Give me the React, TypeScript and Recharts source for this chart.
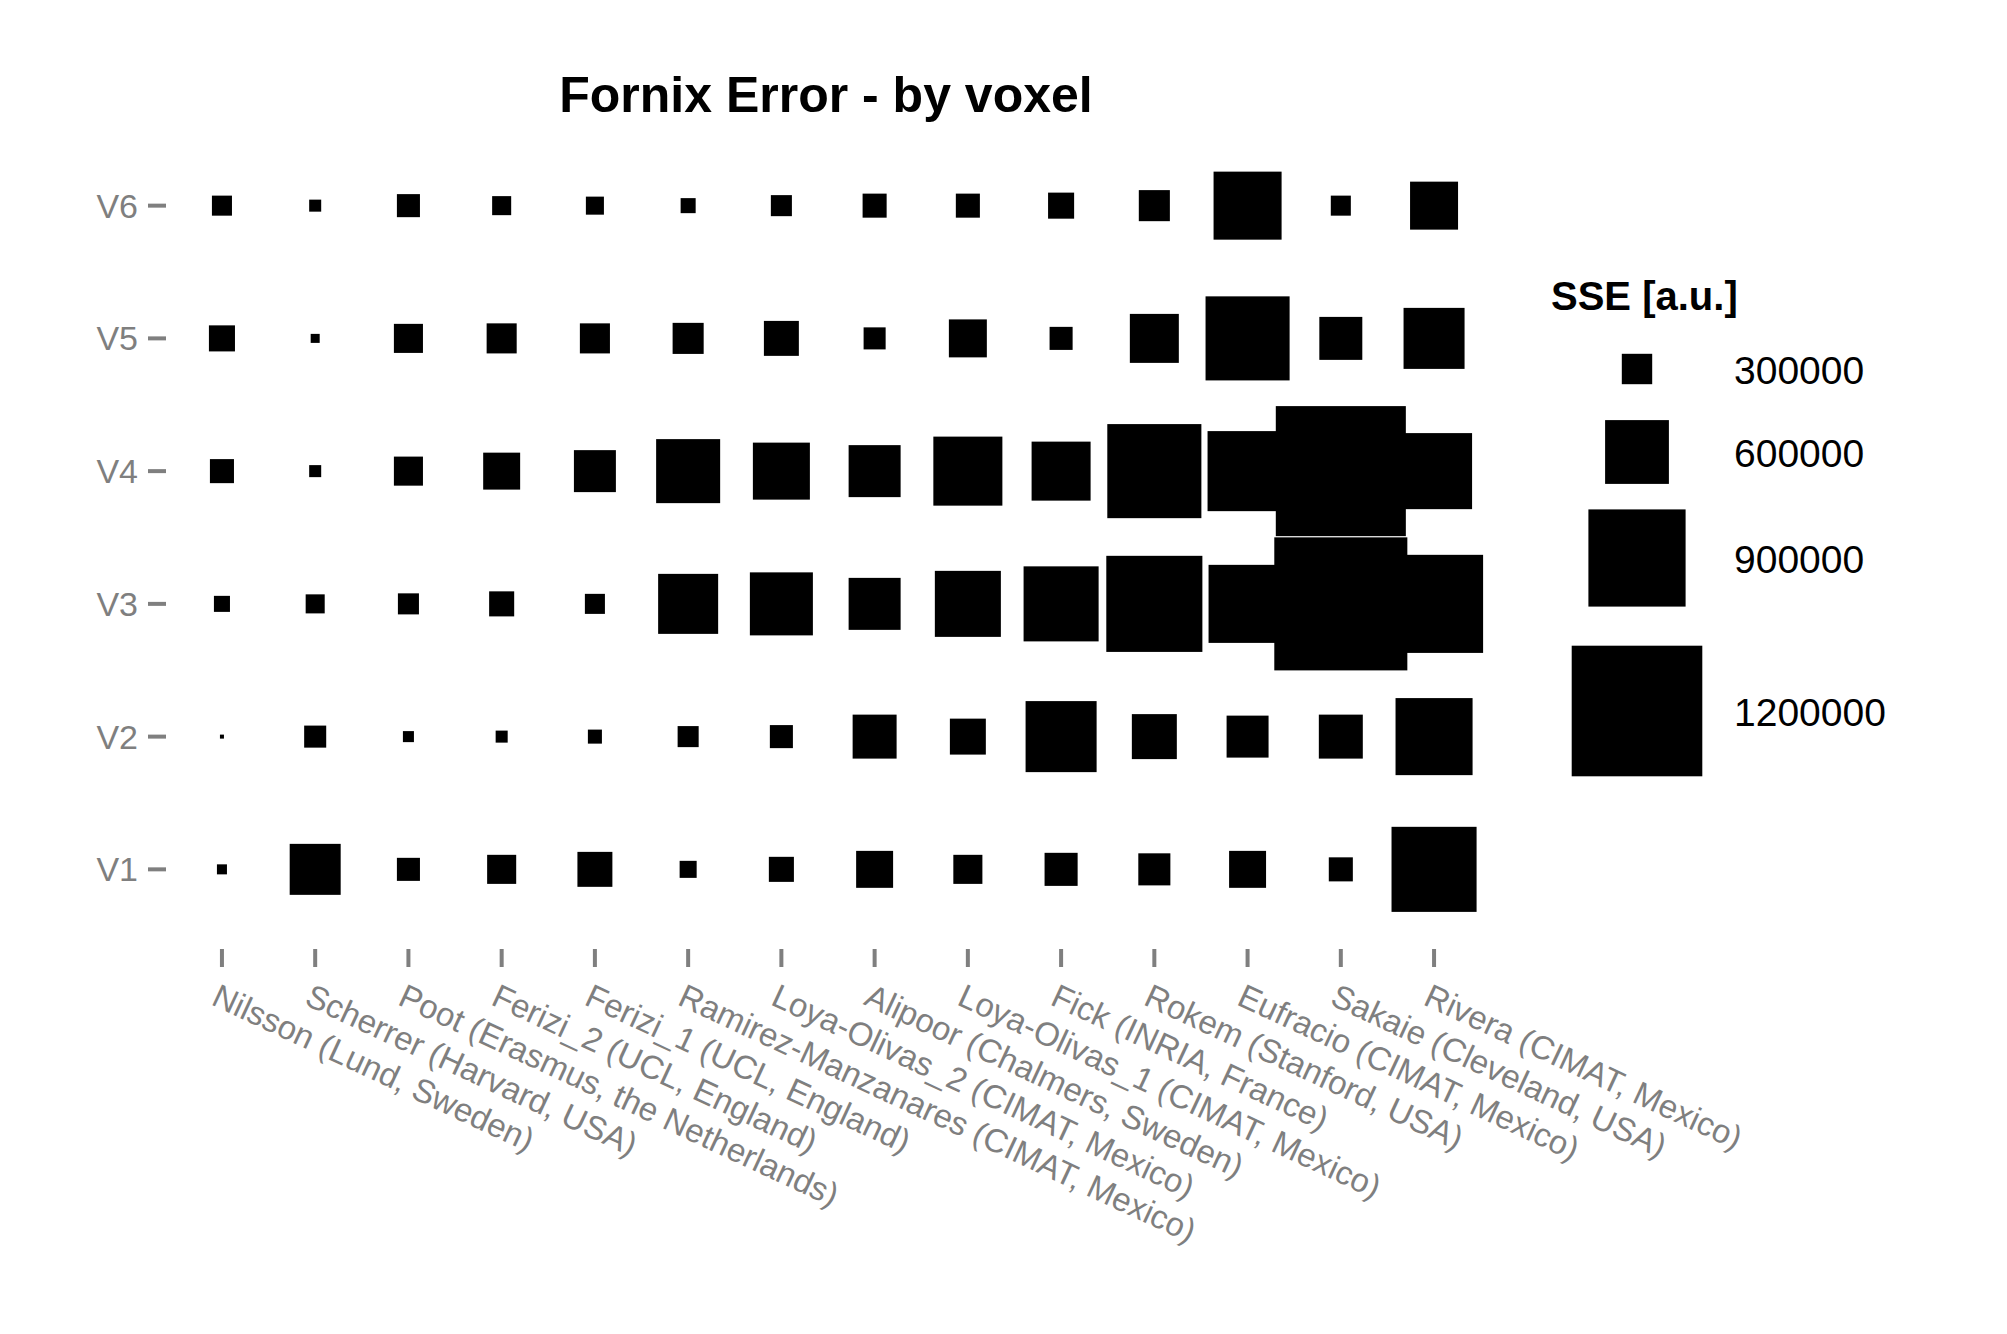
import React from 'react';
import { ScatterChart, Scatter, XAxis, YAxis } from 'recharts';

// teams, in axis order
const METHODS = [
  'Nilsson (Lund, Sweden)',
  'Scherrer (Harvard, USA)',
  'Poot (Erasmus, the Netherlands)',
  'Ferizi_2 (UCL, England)',
  'Ferizi_1 (UCL, England)',
  'Ramirez-Manzanares (CIMAT, Mexico)',
  'Loya-Olivas_2 (CIMAT, Mexico)',
  'Alipoor (Chalmers, Sweden)',
  'Loya-Olivas_1 (CIMAT, Mexico)',
  'Fick (INRIA, France)',
  'Rokem (Stanford, USA)',
  'Eufracio (CIMAT, Mexico)',
  'Sakaie (Cleveland, USA)',
  'Rivera (CIMAT, Mexico)',
];

const VOXELS = ['V1', 'V2', 'V3', 'V4', 'V5', 'V6'];

// SSE per team, one array per voxel
const SSE_V1 = [117000, 485000, 234000, 288000, 341000, 180000, 252000, 359000, 288000, 324000, 315000, 359000, 243000, 791000];
const SSE_V2 = [63000, 225000, 126000, 135000, 153000, 216000, 234000, 422000, 350000, 665000, 431000, 404000, 422000, 719000];
const SSE_V3 = [171000, 198000, 216000, 252000, 207000, 566000, 593000, 494000, 620000, 701000, 890000, 728000, 1222000, 908000];
const SSE_V4 = [243000, 135000, 288000, 359000, 404000, 602000, 539000, 494000, 647000, 557000, 872000, 746000, 1195000, 710000];
const SSE_V5 = [261000, 108000, 288000, 297000, 297000, 306000, 341000, 225000, 368000, 234000, 467000, 782000, 413000, 575000];
const SSE_V6 = [207000, 135000, 234000, 198000, 189000, 162000, 216000, 243000, 243000, 261000, 306000, 638000, 207000, 458000];

const SSE_BY_VOXEL = [SSE_V1, SSE_V2, SSE_V3, SSE_V4, SSE_V5, SSE_V6];
const LEGEND_BREAKS = [300000, 600000, 900000, 1200000];

const W = 2007;
const H = 1334;
const PANEL = { left: 166, right: 1490, top: 126, bottom: 949 };
const GREY = '#7f7f7f';
const FONT = '"Liberation Sans", Arial, Helvetica, sans-serif';
const LABEL_ANGLE = 25;
// vertical centres of the legend keys
const LEGEND_KEY_Y = [369, 452, 558, 711];

// side of the square grows linearly with SSE
const SIZE_DOMAIN = [27000, 1200000];
const SIZE_RANGE = [0, 130.6];
const sideOf = (v: number) =>
  SIZE_RANGE[0] + ((v - SIZE_DOMAIN[0]) * (SIZE_RANGE[1] - SIZE_RANGE[0])) / (SIZE_DOMAIN[1] - SIZE_DOMAIN[0]);

const series = VOXELS.map((name, vi) => ({
  name,
  data: SSE_BY_VOXEL[vi].map((sse, mi) => ({ x: mi, y: vi + 1, sse })),
}));

const Square = (props: any) => {
  const { cx, cy, payload } = props;
  const s = Math.max(sideOf(payload.sse), 1);
  return <rect x={cx - s / 2} y={cy - s / 2} width={s} height={s} fill="#000" />;
};

const XTick = (props: any) => {
  const { x, y, payload } = props;
  const bx = x - 12;
  const by = y + 35;
  return (
    <text
      x={bx}
      y={by}
      transform={`rotate(${LABEL_ANGLE}, ${bx}, ${by})`}
      fill={GREY}
      fontSize={33}
      fontFamily={FONT}
    >
      {METHODS[payload.value]}
    </text>
  );
};

const SizeLegend = () => (
  <g>
    <text x={1551} y={310} fontSize={40} fontWeight="bold" fill="#000" fontFamily={FONT}>
      SSE [a.u.]
    </text>
    {LEGEND_BREAKS.map((v, i) => {
      const s = sideOf(v);
      const cy = LEGEND_KEY_Y[i];
      return (
        <g key={v}>
          <rect x={1637 - s / 2} y={cy - s / 2} width={s} height={s} fill="#000" />
          <text x={1734} y={cy + 15} fontSize={39} fill="#000" fontFamily={FONT}>
            {v}
          </text>
        </g>
      );
    })}
  </g>
);

export default function App() {
  return (
    <div style={{ position: 'absolute', left: 0, top: 0, width: W, height: H, background: '#fff', fontFamily: FONT }}>
      <ScatterChart
        width={W}
        height={H}
        margin={{ top: PANEL.top, left: PANEL.left - 150, right: W - PANEL.right, bottom: H - PANEL.bottom - 300 }}
      >
        <XAxis
          type="number"
          dataKey="x"
          domain={[-0.6, 13.6]}
          ticks={METHODS.map((_, i) => i)}
          interval={0}
          height={300}
          axisLine={false}
          tickSize={18}
          tickMargin={2}
          tickLine={{ stroke: GREY, strokeWidth: 4 }}
          tick={<XTick />}
        />
        <YAxis
          type="number"
          dataKey="y"
          domain={[0.4, 6.6]}
          ticks={VOXELS.map((_, i) => i + 1)}
          interval={0}
          width={150}
          axisLine={false}
          tickSize={18}
          tickMargin={10}
          tickLine={{ stroke: GREY, strokeWidth: 4 }}
          tick={{ fill: GREY, fontSize: 34, fontFamily: FONT }}
          tickFormatter={(v: number) => VOXELS[v - 1]}
        />
        {series.map((s) => (
          <Scatter key={s.name} name={s.name} data={s.data} shape={<Square />} isAnimationActive={false} />
        ))}
      </ScatterChart>
      <svg width={W} height={H} style={{ position: 'absolute', left: 0, top: 0, pointerEvents: 'none' }}>
        <text x={826} y={112} textAnchor="middle" fontSize={50} fontWeight="bold" fill="#000" fontFamily={FONT}>
          Fornix Error - by voxel
        </text>
        <SizeLegend />
      </svg>
    </div>
  );
}
